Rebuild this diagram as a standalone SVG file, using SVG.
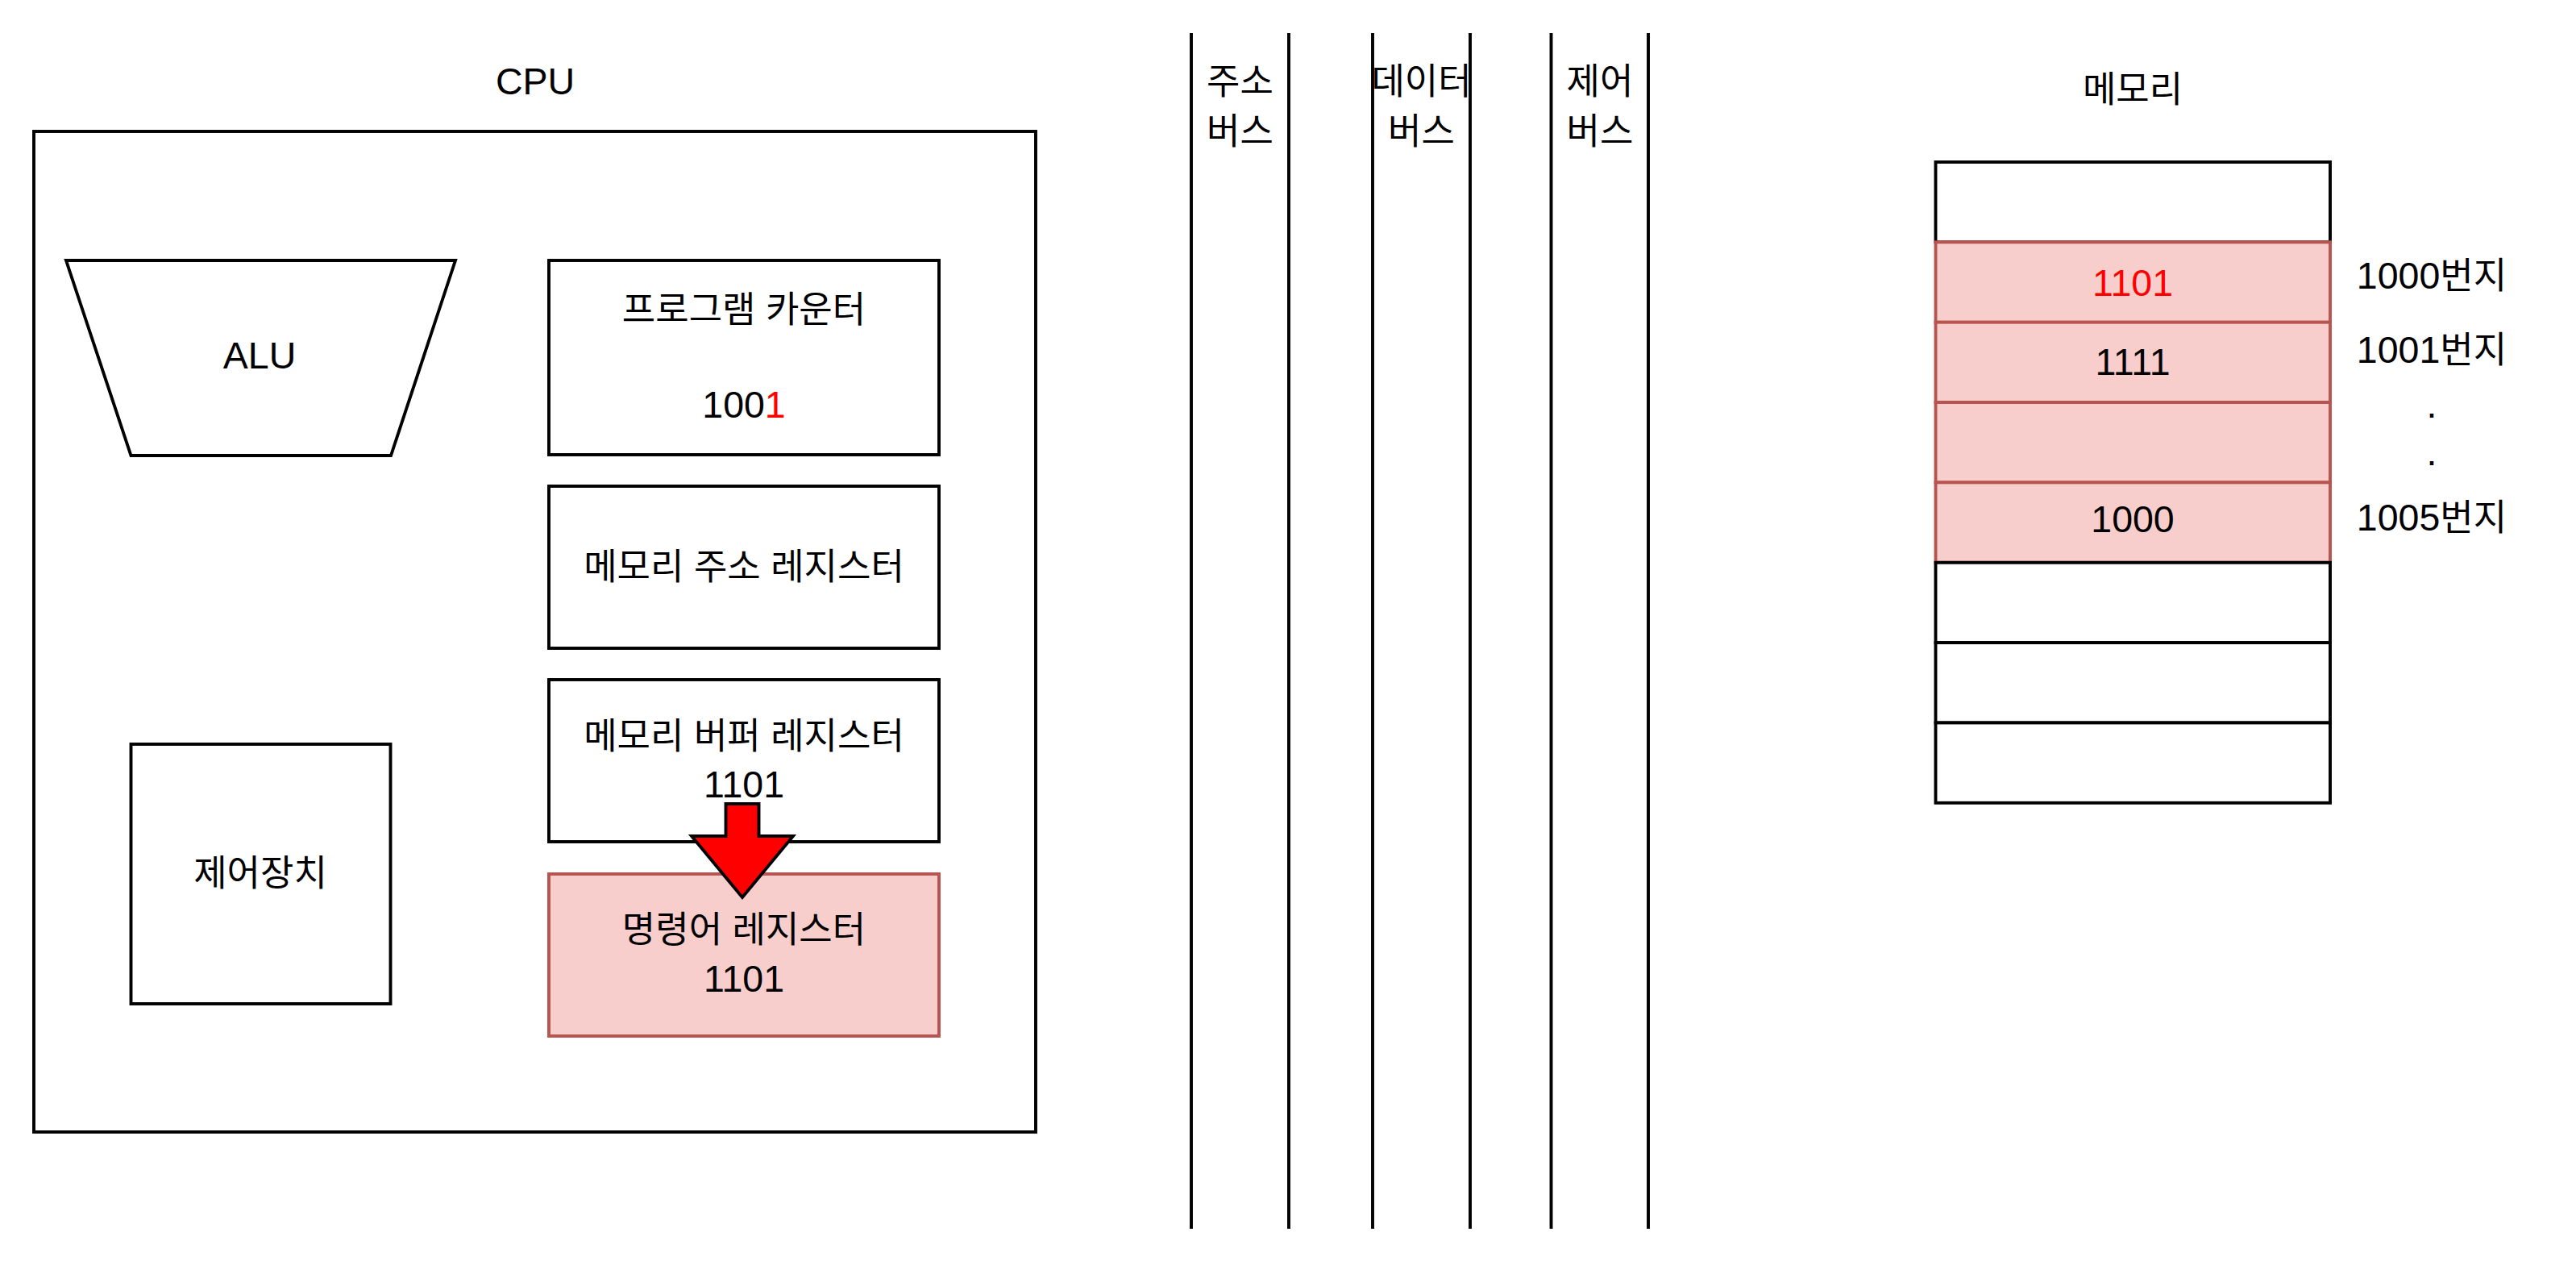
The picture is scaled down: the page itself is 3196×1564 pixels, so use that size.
<svg xmlns="http://www.w3.org/2000/svg" width="3196" height="1564" viewBox="0 0 3196 1564">
<style>
  .box { fill: #ffffff; stroke: #000000; stroke-width: 3.9; }
  .pink { fill: #f8cecc; stroke: #b85450; stroke-width: 3.9; }
  .line { stroke: #000000; stroke-width: 3.9; fill: none; }
  .t { font-family: "Liberation Sans", "Noto Sans CJK KR", Arial, sans-serif; font-size: 46.5px; fill: #000000; text-anchor: middle; }
  .k { font-family: "Liberation Sans", "Noto Sans CJK KR", Arial, sans-serif; font-size: 45px; fill: #000000; text-anchor: middle; }
  .kk { font-size: 45px; }
  .red { fill: #ff0000; }
</style>
<rect x="0" y="0" width="3196" height="1564" fill="#ffffff"/>

<g id="cpu">
  <text class="t" x="664" y="116.5">CPU</text>
  <rect class="box" x="42" y="163" width="1243" height="1241"/>
</g>

<g id="alu">
  <polygon class="box" points="82,323 565,323 485,565 162.5,565"/>
  <text class="t" x="322" y="457">ALU</text>
</g>

<g id="program-counter">
  <rect class="box" x="681" y="323" width="484" height="241"/>
  <text class="k" x="923" y="400">프로그램 카운터</text>
  <text class="t" x="923" y="518">100<tspan class="red">1</tspan></text>
</g>

<g id="memory-address-register">
  <rect class="box" x="681" y="603" width="484" height="201"/>
  <text class="k" x="923" y="719">메모리 주소 레지스터</text>
</g>

<g id="memory-buffer-register">
  <rect class="box" x="681" y="843" width="484" height="201"/>
  <text class="k" x="923" y="929">메모리 버퍼 레지스터</text>
  <text class="t" x="923" y="988.5">1101</text>
</g>

<g id="instruction-register">
  <rect class="pink" x="681" y="1084" width="484" height="201"/>
  <text class="k" x="923" y="1169">명령어 레지스터</text>
  <text class="t" x="923" y="1230">1101</text>
</g>

<g id="control-unit">
  <rect class="box" x="162.5" y="923" width="322" height="322"/>
  <text class="k" x="323" y="1098.5">제어장치</text>
</g>

<g id="address-bus">
  <line class="line" x1="1478" y1="41" x2="1478" y2="1524"/>
  <line class="line" x1="1599" y1="41" x2="1599" y2="1524"/>
  <text class="k" x="1538.5" y="117">주소</text>
  <text class="k" x="1538.5" y="179">버스</text>
</g>

<g id="data-bus">
  <line class="line" x1="1703" y1="41" x2="1703" y2="1524"/>
  <line class="line" x1="1824" y1="41" x2="1824" y2="1524"/>
  <text class="k" x="1763.5" y="117">데이터</text>
  <text class="k" x="1763.5" y="179">버스</text>
</g>

<g id="control-bus">
  <line class="line" x1="1924.5" y1="41" x2="1924.5" y2="1524"/>
  <line class="line" x1="2045" y1="41" x2="2045" y2="1524"/>
  <text class="k" x="1985" y="117">제어</text>
  <text class="k" x="1985" y="179">버스</text>
</g>

<g id="memory">
  <text class="k" x="2646" y="127">메모리</text>
  <rect class="box" x="2401.5" y="201" width="489.5" height="99.35"/>
  <rect class="pink" x="2401.5" y="300.35" width="489.5" height="99.35"/>
  <rect class="pink" x="2401.5" y="399.7" width="489.5" height="99.35"/>
  <rect class="pink" x="2401.5" y="499.05" width="489.5" height="99.35"/>
  <rect class="pink" x="2401.5" y="598.4" width="489.5" height="99.35"/>
  <rect class="box" x="2401.5" y="697.75" width="489.5" height="99.35"/>
  <rect class="box" x="2401.5" y="797.1" width="489.5" height="99.35"/>
  <rect class="box" x="2401.5" y="896.45" width="489.5" height="99.35"/>
  <text class="t red" x="2646" y="366.5">1101</text>
  <text class="t" x="2646" y="465">1111</text>
  <text class="t" x="2646" y="660">1000</text>
</g>

<g id="addresses">
  <text class="t" x="3017" y="358">1000<tspan class="kk">번지</tspan></text>
  <text class="t" x="3017" y="450">1001<tspan class="kk">번지</tspan></text>
  <text class="t" x="3017" y="518">.</text>
  <text class="t" x="3017" y="577">.</text>
  <text class="t" x="3017" y="657.5">1005<tspan class="kk">번지</tspan></text>
</g>

<g id="connectors">
  <polygon points="900.5,997 941.5,997 941.5,1037 984,1037 921,1113 858,1037 900.5,1037" fill="#ff0000" stroke="#000000" stroke-width="3.9" stroke-linejoin="miter"/>
</g>
</svg>
